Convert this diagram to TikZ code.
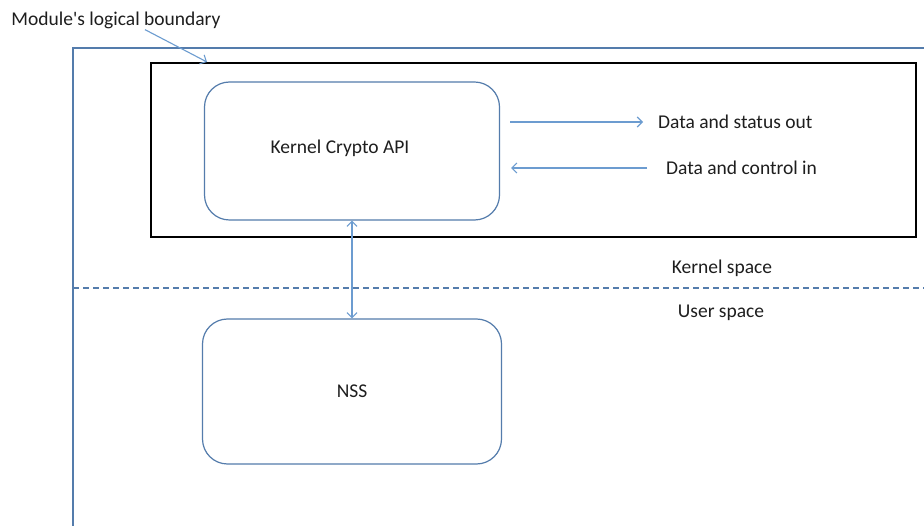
\documentclass[tikz,border=0pt]{standalone}
\usepackage{fontspec}
\setmainfont{Carlito}[Ligatures=TeXOff]
\usetikzlibrary{arrows.meta}
\tikzset{>={Straight Barb[length=5pt,width=10pt]}}
\definecolor{lineblue}{RGB}{84,124,172}
\definecolor{arrowblue}{RGB}{108,156,208}
\definecolor{ink}{RGB}{30,30,30}
\tikzset{
  block/.style={draw=lineblue,line width=1.2pt,rounded corners=25pt,font=\fontsize{19.5}{22}\selectfont,text=ink},
  lbl/.style={inner sep=0pt,font=\fontsize{19.5}{22}\selectfont,text=ink},
  link/.style={draw=arrowblue,line width=1.1pt,->}
}

\begin{document}
\begin{tikzpicture}[x=1pt,y=-1pt]
  \useasboundingbox[fill=white] (0,0) rectangle (924,526);
  % boundary and kernel box
  \draw[lineblue,line width=1.2pt] (73,540) -- (73,48) -- (940,48);
  \draw[black,line width=1.5pt] (151,63) rectangle (916,237);
  \draw[lineblue,line width=1.1pt,dash pattern=on 6pt off 4pt] (73,288) -- (924,288);

  \node[block,minimum width=295pt,minimum height=138pt] (kca) at (352,151) {};
  \node[lbl] (kcat) at (340,148) {Kernel Crypto API};
  \node[block,minimum width=299pt,minimum height=145pt] (nss) at (352,391.5) {NSS};

  \node[lbl] (mlb) at (116,20) {Module's logical boundary};
  \node[lbl,anchor=west] (dso) at (658,122) {Data and status out};
  \node[lbl,anchor=west] (dci) at (666,168) {Data and control in};
  \node[lbl] (ksp) at (722,268) {Kernel space};
  \node[lbl] (usp) at (721,313) {User space};

  % arrows
  \coordinate (bnd) at (207,62);
  \draw[link] ([xshift=29pt,yshift=-1pt]mlb.south) -- (bnd);
  \draw[link,shorten <=10pt,shorten >=15pt] (kca.east |- dso.west) -- (dso.west);
  \draw[link,shorten <=19pt,shorten >=11pt] (dci.west) -- (kca.east |- dci.west);
  \draw[link,<->] (kca.south) -- (nss.north);
\end{tikzpicture}
\end{document}
